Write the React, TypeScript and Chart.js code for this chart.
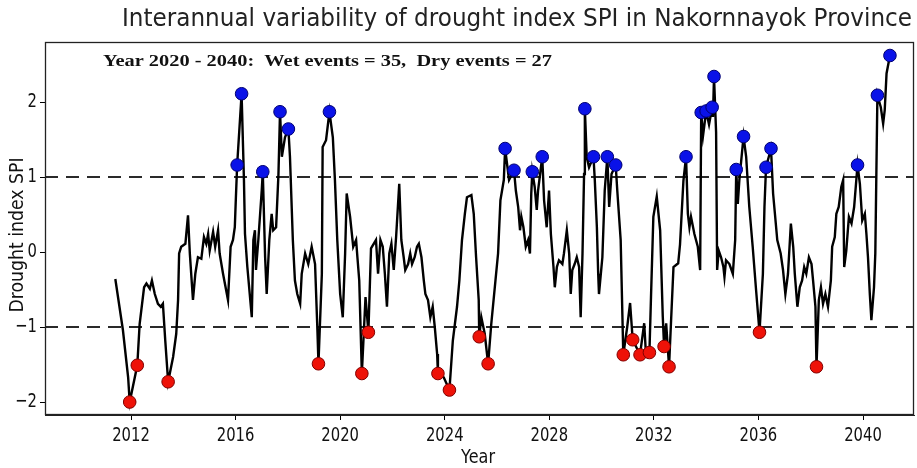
import React, { useEffect, useRef } from "react";
import { Chart, registerables } from "chart.js";

Chart.register(...registerables);

const spiYears = [
  2011.40, 2011.69, 2011.89, 2011.95, 2012.24, 2012.33, 2012.50, 2012.59, 2012.72, 2012.80,
  2012.91, 2013.03, 2013.14, 2013.22, 2013.31, 2013.42, 2013.61, 2013.73, 2013.80, 2013.84,
  2013.92, 2014.08, 2014.18, 2014.25, 2014.37, 2014.46, 2014.56, 2014.69, 2014.79, 2014.88,
  2014.95, 2015.01, 2015.14, 2015.22, 2015.33, 2015.39, 2015.52, 2015.71, 2015.81, 2015.90,
  2015.97, 2016.01, 2016.06, 2016.23, 2016.32, 2016.36, 2016.45, 2016.62, 2016.68, 2016.74,
  2016.78, 2016.87, 2017.00, 2017.04, 2017.13, 2017.19, 2017.29, 2017.38, 2017.44, 2017.55,
  2017.64, 2017.70, 2017.77, 2017.89, 2018.02, 2018.08, 2018.19, 2018.27, 2018.36, 2018.47,
  2018.53, 2018.66, 2018.78, 2018.91, 2019.04, 2019.13, 2019.17, 2019.30, 2019.33, 2019.46,
  2019.59, 2019.72, 2019.80, 2019.89, 2020.00, 2020.10, 2020.19, 2020.25, 2020.38, 2020.50,
  2020.61, 2020.66, 2020.73, 2020.83, 2020.97, 2021.08, 2021.18, 2021.37, 2021.45, 2021.54,
  2021.63, 2021.71, 2021.79, 2021.88, 2021.96, 2022.05, 2022.14, 2022.26, 2022.34, 2022.43,
  2022.49, 2022.60, 2022.68, 2022.75, 2022.85, 2022.94, 2023.01, 2023.11, 2023.20, 2023.26,
  2023.36, 2023.45, 2023.54, 2023.62, 2023.71, 2023.74, 2023.96, 2024.18, 2024.31, 2024.47,
  2024.56, 2024.66, 2024.77, 2024.85, 2025.02, 2025.11, 2025.20, 2025.30, 2025.32, 2025.40,
  2025.53, 2025.66, 2025.78, 2025.94, 2026.04, 2026.13, 2026.26, 2026.31, 2026.46, 2026.65,
  2026.72, 2026.81, 2026.88, 2026.93, 2027.01, 2027.10, 2027.19, 2027.26, 2027.31, 2027.35,
  2027.44, 2027.52, 2027.57, 2027.73, 2027.80, 2027.90, 2027.99, 2028.06, 2028.16, 2028.21,
  2028.29, 2028.37, 2028.50, 2028.56, 2028.67, 2028.76, 2028.82, 2028.88, 2028.97, 2029.05,
  2029.14, 2029.20, 2029.27, 2029.33, 2029.36, 2029.43, 2029.52, 2029.69, 2029.74, 2029.82,
  2029.87, 2029.90, 2030.03, 2030.12, 2030.22, 2030.29, 2030.38, 2030.54, 2030.60, 2030.73,
  2030.83, 2030.98, 2031.09, 2031.19, 2031.47, 2031.63, 2031.70, 2031.83, 2031.89, 2031.98,
  2032.11, 2032.24, 2032.34, 2032.39, 2032.47, 2032.58, 2032.66, 2032.75, 2032.93, 2033.00,
  2033.13, 2033.23, 2033.30, 2033.36, 2033.42, 2033.55, 2033.68, 2033.77, 2033.81, 2033.88,
  2034.00, 2034.11, 2034.23, 2034.26, 2034.30, 2034.38, 2034.42, 2034.48, 2034.57, 2034.66,
  2034.70, 2034.76, 2034.89, 2035.02, 2035.11, 2035.15, 2035.21, 2035.27, 2035.43, 2035.53,
  2035.65, 2035.78, 2035.91, 2036.04, 2036.17, 2036.23, 2036.29, 2036.48, 2036.56, 2036.63,
  2036.72, 2036.85, 2036.94, 2037.03, 2037.13, 2037.24, 2037.33, 2037.39, 2037.49, 2037.58,
  2037.67, 2037.75, 2037.83, 2037.93, 2038.03, 2038.09, 2038.18, 2038.22, 2038.31, 2038.39,
  2038.47, 2038.56, 2038.66, 2038.77, 2038.82, 2038.92, 2038.98, 2039.07, 2039.17, 2039.24,
  2039.28, 2039.36, 2039.46, 2039.56, 2039.66, 2039.79, 2039.88, 2039.97, 2040.07, 2040.13,
  2040.19, 2040.26, 2040.32, 2040.42, 2040.47, 2040.51, 2040.55, 2040.68, 2040.77, 2040.83,
  2040.90, 2041.03,
];

const spiValues = [
  -0.36, -1.04, -1.67, -2.00, -1.51, -0.96, -0.47, -0.42, -0.49, -0.38,
  -0.56, -0.69, -0.73, -0.69, -1.18, -1.73, -1.40, -1.09, -0.64, -0.02,
  0.07, 0.11, 0.49, -0.02, -0.64, -0.29, -0.07, -0.09, 0.20, 0.11,
  0.24, 0.02, 0.27, 0.07, 0.29, -0.02, -0.29, -0.64, 0.07, 0.16,
  0.33, 0.71, 1.16, 2.11, 0.96, 0.24, -0.20, -0.87, 0.16, 0.29,
  -0.24, 0.16, 0.82, 1.07, -0.07, -0.56, 0.16, 0.51, 0.29, 0.33,
  1.04, 1.87, 1.27, 1.53, 1.64, 1.27, 0.16, -0.38, -0.56, -0.69,
  -0.29, -0.02, -0.16, 0.07, -0.16, -1.04, -1.49, -0.29, 1.40, 1.49,
  1.87, 1.53, 0.96, 0.16, -0.56, -0.87, -0.02, 0.78, 0.47, 0.07,
  0.16, -0.07, -0.38, -1.62, -0.60, -1.07, 0.05, 0.16, -0.29, 0.16,
  0.07, -0.29, -0.73, -0.02, 0.11, -0.24, 0.20, 0.91, 0.16, -0.07,
  -0.24, -0.16, -0.02, -0.16, -0.07, 0.07, 0.11, -0.07, -0.38, -0.56,
  -0.64, -0.87, -0.73, -1.00, -1.36, -1.62, -1.67, -1.84, -1.18, -0.73,
  -0.38, 0.16, 0.51, 0.73, 0.76, 0.51, -0.07, -0.64, -1.13, -0.87,
  -1.09, -1.49, -0.96, -0.38, -0.02, 0.69, 0.96, 1.38, 0.96, 1.09,
  0.82, 0.60, 0.29, 0.47, 0.33, 0.07, 0.16, -0.02, 0.78, 1.07,
  0.87, 0.56, 0.82, 1.27, 0.69, 0.33, 0.82, 0.24, -0.20, -0.47,
  -0.20, -0.11, -0.16, -0.02, 0.29, -0.02, -0.56, -0.24, -0.16, -0.07,
  -0.20, -0.87, -0.02, 1.04, 1.91, 1.27, 1.13, 1.27, 0.96, 0.33,
  -0.29, -0.56, -0.07, 0.82, 1.27, 0.60, 1.04, 1.16, 0.82, 0.16,
  -1.37, -1.00, -0.68, -1.17, -1.37, -0.95, -1.38, -1.34, -0.60, 0.47,
  0.74, 0.29, -0.86, -1.26, -0.95, -1.53, -0.90, -0.20, -0.15, 0.10,
  0.95, 1.27, 0.51, 0.33, 0.47, 0.24, 0.07, -0.24, 1.86, 1.55,
  1.88, 1.70, 1.93, 1.80, 2.34, 1.60, -0.24, 0.02, -0.07, -0.20,
  -0.33, -0.11, -0.16, -0.29, 0.16, 1.10, 0.64, 0.96, 1.54, 1.27,
  0.60, 0.07, -0.51, -1.07, -0.29, 0.60, 1.13, 1.38, 0.78, 0.51,
  0.16, -0.02, -0.24, -0.56, -0.29, 0.38, 0.07, -0.29, -0.73, -0.47,
  -0.38, -0.20, -0.29, -0.07, -0.16, -0.38, -0.73, -1.53, -0.64, -0.47,
  -0.69, -0.56, -0.73, -0.38, 0.07, 0.20, 0.51, 0.60, 0.87, 0.96,
  -0.20, 0.02, 0.47, 0.38, 0.60, 1.16, 0.91, 0.42, 0.51, 0.24,
  -0.07, -0.56, -0.91, -0.47, -0.02, 1.04, 2.09, 1.93, 1.71, 1.89,
  2.38, 2.62,
];

const wetYears = [
  2016.06, 2016.23, 2017.04, 2017.70, 2018.02, 2019.59, 2026.31, 2026.65, 2027.35, 2027.73,
  2029.36, 2029.69, 2030.22, 2030.54, 2033.23, 2033.81, 2034.00, 2034.23, 2034.30, 2035.15,
  2035.43, 2036.29, 2036.48, 2039.79, 2040.55, 2041.03,
];
const wetValues = [
  1.16, 2.11, 1.07, 1.87, 1.64, 1.87, 1.38, 1.09, 1.07, 1.27,
  1.91, 1.27, 1.27, 1.16, 1.27, 1.86, 1.88, 1.93, 2.34, 1.10,
  1.54, 1.13, 1.38, 1.16, 2.09, 2.62,
];

const dryYears = [
  2011.95, 2012.24, 2013.42, 2019.17, 2020.83, 2021.08, 2023.74, 2024.18, 2025.32, 2025.66,
  2030.83, 2031.19, 2031.47, 2031.83, 2032.39, 2032.58, 2036.04, 2038.22,
];
const dryValues = [
  -2.00, -1.51, -1.73, -1.49, -1.62, -1.07, -1.62, -1.84, -1.13, -1.49,
  -1.37, -1.17, -1.37, -1.34, -1.26, -1.53, -1.07, -1.53,
];

const thresholds = [1, -1];
const xTicks = [2012, 2016, 2020, 2024, 2028, 2032, 2036, 2040];
const yTicks = [-2, -1, 0, 1, 2];
const xRange = [2008.71, 2041.95];
const yRange = [-2.173, 2.8];

const titleText = "Interannual variability of drought index SPI in Nakornnayok Province";
const noteText = "Year 2020 - 2040:  Wet events = 35,  Dry events = 27";
const xLabel = "Year";
const yLabel = "Drought index SPI";

const SANS = "'DejaVu Sans', 'Liberation Sans', sans-serif";
const SERIF = "'Liberation Serif', 'DejaVu Serif', serif";

function drawScaled(
  ctx: CanvasRenderingContext2D,
  text: string,
  x: number,
  y: number,
  font: string,
  align: CanvasTextAlign,
  opts: { sx?: number; width?: number; rotate?: boolean; color?: string }
) {
  ctx.save();
  ctx.font = font;
  let sx = opts.sx ?? 1;
  if (opts.width) sx = opts.width / ctx.measureText(text).width;
  ctx.translate(x, y);
  if (opts.rotate) ctx.rotate(-Math.PI / 2);
  ctx.scale(sx, 1);
  ctx.textAlign = align;
  ctx.textBaseline = "middle";
  ctx.fillStyle = opts.color ?? "#111";
  ctx.fillText(text, 0, 0);
  ctx.restore();
}

const decorPlugin = {
  id: "decor",
  afterDraw(chart: any) {
    const { ctx, chartArea: a, scales } = chart;
    ctx.save();
    ctx.strokeStyle = "#222";
    ctx.lineWidth = 1.3;
    ctx.strokeRect(a.left + 0.5, a.top + 0.5, a.right - a.left - 1, a.bottom - a.top - 1);
    ctx.restore();

    const tickFont = `20px ${SANS}`;
    xTicks.forEach((v) => {
      const px = scales.x.getPixelForValue(v);
      drawScaled(ctx, String(v), px, a.bottom + 21, tickFont, "center", { sx: 0.74 });
    });
    yTicks.forEach((v) => {
      const py = scales.y.getPixelForValue(v);
      const label = v < 0 ? "\u2212" + Math.abs(v) : String(v);
      drawScaled(ctx, label, a.left - 8, py, tickFont, "right", { sx: 0.74 });
    });

    drawScaled(ctx, titleText, 517, 19, `25px ${SANS}`, "center", { width: 790, color: "#222" });
    drawScaled(ctx, noteText, 103, 62, `bold 17px ${SERIF}`, "left", { width: 449 });
    drawScaled(ctx, xLabel, 478, 458, `19px ${SANS}`, "center", { width: 34 });
    drawScaled(ctx, yLabel, 18, 235, `20px ${SANS}`, "center", { width: 155, rotate: true });
  },
};

export default function App() {
  const canvasRef = useRef<HTMLCanvasElement | null>(null);

  useEffect(() => {
    const canvas = canvasRef.current;
    if (!canvas) return;

    const lineData = spiYears.map((x, i) => ({ x, y: spiValues[i] }));
    const wetData = wetYears.map((x, i) => ({ x, y: wetValues[i] }));
    const dryData = dryYears.map((x, i) => ({ x, y: dryValues[i] }));

    const thresholdSets = thresholds.map((t) => ({
      label: "threshold " + t,
      data: [
        { x: xRange[0], y: t },
        { x: xRange[1], y: t },
      ],
      showLine: true,
      borderColor: "#2a2a2a",
      borderWidth: 2,
      borderDash: [13, 8],
      pointRadius: 0,
      order: 2,
    }));

    const chart = new Chart(canvas, {
      type: "scatter",
      data: {
        datasets: [
          {
            label: "Wet events",
            data: wetData,
            pointRadius: 6.3,
            pointBackgroundColor: "#0a12e8",
            pointBorderColor: "#000070",
            pointBorderWidth: 1,
            order: 0,
          },
          {
            label: "Dry events",
            data: dryData,
            pointRadius: 6.3,
            pointBackgroundColor: "#ee1208",
            pointBorderColor: "#800000",
            pointBorderWidth: 1,
            order: 0,
          },
          {
            label: "SPI",
            data: lineData,
            showLine: true,
            borderColor: "#000",
            borderWidth: 2.4,
            pointRadius: 0,
            tension: 0,
            order: 1,
          },
          ...thresholdSets,
        ],
      },
      options: {
        responsive: false,
        animation: false,
        layout: { autoPadding: false, padding: { top: 42, right: 3, left: 0, bottom: 0 } },
        plugins: {
          legend: { display: false },
          tooltip: { enabled: false },
          title: { display: false },
        },
        scales: {
          x: {
            type: "linear",
            min: xRange[0],
            max: xRange[1],
            afterFit: (s: any) => {
              s.height = 53;
            },
            afterBuildTicks: (s: any) => {
              s.ticks = xTicks.map((v) => ({ value: v }));
            },
            ticks: { display: false },
            grid: {
              display: true,
              drawOnChartArea: false,
              drawTicks: true,
              tickLength: 5,
              color: "#000",
            },
            border: { display: true, color: "#222", width: 1 },
          },
          y: {
            type: "linear",
            min: yRange[0],
            max: yRange[1],
            afterFit: (s: any) => {
              s.width = 45;
            },
            afterBuildTicks: (s: any) => {
              s.ticks = yTicks.map((v) => ({ value: v }));
            },
            ticks: { display: false },
            grid: {
              display: true,
              drawOnChartArea: false,
              drawTicks: true,
              tickLength: 5,
              color: "#000",
            },
            border: { display: true, color: "#222", width: 1 },
          },
        },
      },
      plugins: [decorPlugin],
    });

    return () => chart.destroy();
  }, []);

  return (
    <div style={{ position: "fixed", left: 0, top: 0, width: 917, height: 468, background: "#fff" }}>
      <canvas ref={canvasRef} width={917} height={468} style={{ display: "block" }} />
    </div>
  );
}
